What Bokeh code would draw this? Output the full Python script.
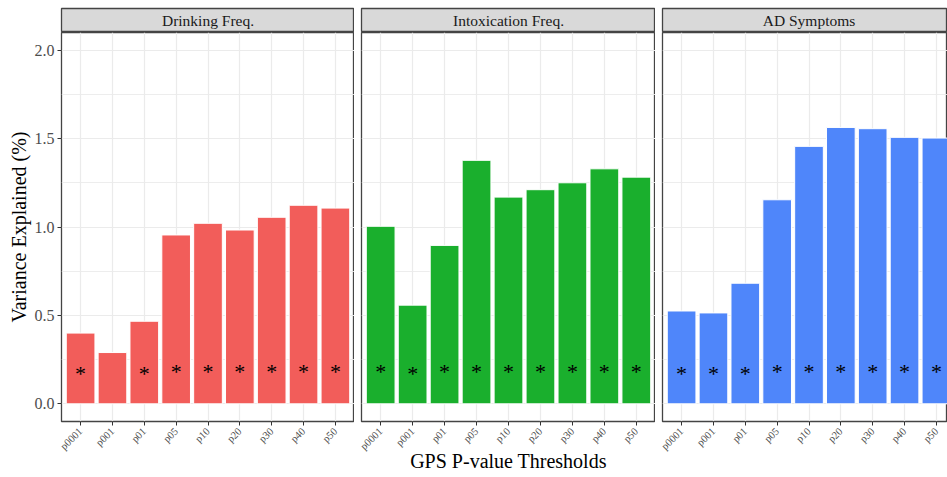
import math
from bokeh.plotting import figure
from bokeh.models import (Range1d, FixedTicker, Grid, Label, PrintfTickFormatter,
                          ColumnDataSource)
from bokeh.layouts import row, column
from bokeh.core.properties import value
from bokeh.embed import file_html
from bokeh.resources import INLINE

# ---- data ----
thresholds = ["p0001", "p001", "p01", "p05", "p10", "p20", "p30", "p40", "p50"]
facets = ["Drinking Freq.", "Intoxication Freq.", "AD Symptoms"]

drinking = [0.40, 0.29, 0.467, 0.955, 1.021, 0.983, 1.055, 1.123, 1.107]
intoxication = [1.004, 0.558, 0.896, 1.377, 1.169, 1.211, 1.250, 1.329, 1.282]
ad_symptoms = [0.525, 0.514, 0.682, 1.154, 1.456, 1.563, 1.556, 1.507, 1.503]

drinking_sig = ["*", "", "*", "*", "*", "*", "*", "*", "*"]
intoxication_sig = ["*", "*", "*", "*", "*", "*", "*", "*", "*"]
ad_symptoms_sig = ["*", "*", "*", "*", "*", "*", "*", "*", "*"]

drinking_sig_y = [0.170, 0.182, 0.170, 0.182, 0.182, 0.182, 0.182, 0.182, 0.182]
intoxication_sig_y = [0.180, 0.173, 0.180, 0.182, 0.182, 0.182, 0.182, 0.182, 0.182]
ad_symptoms_sig_y = [0.173, 0.173, 0.173, 0.182, 0.185, 0.185, 0.185, 0.185, 0.185]

y_ticks = [0.0, 0.5, 1.0, 1.5, 2.0]
y_minor = [0.25, 0.75, 1.25, 1.75]

colors = ["#F25D5A", "#1AAF2D", "#4F86FA"]

SERIF = "Liberation Serif"
GRID = "#EBEBEB"
BORDER = "#444444"

xs = list(range(1, len(thresholds) + 1))


def make_facet(title, vals, sig, sig_y, color, left_border, frame_w, x_end,
               show_y, show_xtitle):
    x_range = Range1d(0.4, x_end)
    p = figure(frame_width=frame_w, frame_height=389, x_range=x_range,
               y_range=Range1d(-0.1, 2.1), output_backend="svg",
               toolbar_location=None, tools="",
               y_axis_location="left" if show_y else None,
               min_border_left=left_border, min_border_right=0,
               min_border_top=0, min_border_bottom=30,
               background_fill_color="white", border_fill_color="white",
               outline_line_color=BORDER, outline_line_width=1.3)
    p.center = [r for r in p.center if not isinstance(r, Grid)]
    p.add_layout(Grid(dimension=1, ticker=FixedTicker(ticks=y_ticks, minor_ticks=y_minor),
                      grid_line_color=GRID, grid_line_width=1.2,
                      minor_grid_line_color=GRID, minor_grid_line_width=0.9), "center")
    p.add_layout(Grid(dimension=0, ticker=FixedTicker(ticks=xs),
                      grid_line_color=GRID, grid_line_width=1.2), "center")

    src = ColumnDataSource(dict(x=xs, top=vals, sig=sig, sig_y=sig_y))
    p.vbar(x="x", top="top", bottom=0, width=0.9, source=src,
           fill_color=color, line_color="white", line_width=1)
    p.text(x="x", y="sig_y", text="sig", source=src, text_font=value(SERIF),
           text_font_size="22px", text_align="center", text_baseline="middle",
           text_color="black")

    ax = p.xaxis[0]
    ax.ticker = FixedTicker(ticks=xs)
    ax.major_label_overrides = {x: t for x, t in zip(xs, thresholds)}
    ax.major_label_orientation = math.pi / 4
    ax.axis_line_color = None
    ax.major_tick_out = 4
    ax.major_tick_in = 0
    ax.minor_tick_line_color = None
    ax.major_tick_line_color = "#333333"
    ax.major_label_text_font = SERIF
    ax.major_label_text_font_size = "10.5px"
    ax.major_label_text_color = "#4D4D4D"
    ax.major_label_standoff = 4
    if show_xtitle:
        ax.axis_label = "GPS P-value Thresholds"
        ax.axis_label_text_font = SERIF
        ax.axis_label_text_font_size = "20px"
        ax.axis_label_text_font_style = "normal"
        ax.axis_label_text_color = "black"
        ax.axis_label_standoff = -9

    if show_y:
        ay = p.yaxis[0]
        ay.ticker = FixedTicker(ticks=y_ticks)
        ay.formatter = PrintfTickFormatter(format="%.1f")
        ay.axis_line_color = None
        ay.major_tick_out = 4
        ay.major_tick_in = 0
        ay.minor_tick_line_color = None
        ay.major_tick_line_color = "#333333"
        ay.major_label_text_font = SERIF
        ay.major_label_text_font_size = "16px"
        ay.major_label_text_color = "#4D4D4D"
        ay.major_label_standoff = 3
        ay.axis_label = "Variance Explained (%)"
        ay.axis_label_text_font = SERIF
        ay.axis_label_text_font_size = "20px"
        ay.axis_label_text_font_style = "normal"
        ay.axis_label_text_color = "black"
        ay.axis_label_standoff = 2

    s = figure(frame_width=frame_w, frame_height=24, x_range=x_range,
               y_range=Range1d(0, 1), output_backend="svg",
               toolbar_location=None, tools="",
               x_axis_location=None, y_axis_location=None,
               min_border_left=left_border, min_border_right=0,
               min_border_top=8, min_border_bottom=0,
               background_fill_color="#D9D9D9", border_fill_color="white",
               outline_line_color=BORDER, outline_line_width=1.3)
    s.center = [r for r in s.center if not isinstance(r, Grid)]
    s.add_layout(Label(x=5.0, y=0.5, text=title, text_font=SERIF,
                       text_font_size="15.5px", text_color="#1A1A1A",
                       text_align="center", text_baseline="middle"))
    return column(s, p, spacing=0)


c1 = make_facet(facets[0], drinking, drinking_sig, drinking_sig_y, colors[0],
                61, 293, 9.6, True, False)
c2 = make_facet(facets[1], intoxication, intoxication_sig, intoxication_sig_y, colors[1],
                7, 294, 9.6, False, True)
c3 = make_facet(facets[2], ad_symptoms, ad_symptoms_sig, ad_symptoms_sig_y, colors[2],
                7, 285, 0.4 + 285 * 9.2 / 293, False, False)

root = row(c1, c2, c3, spacing=0)

open("out.html", "w").write(file_html(root, INLINE))
